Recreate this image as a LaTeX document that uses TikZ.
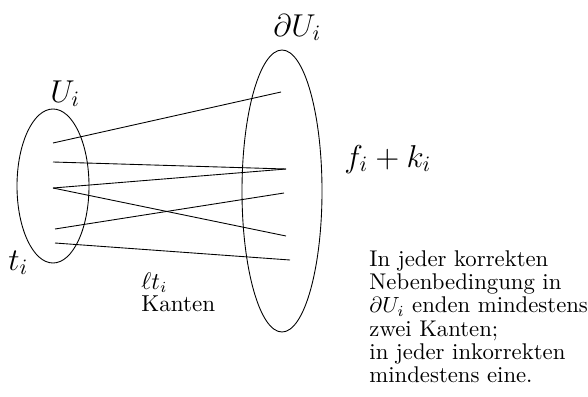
\documentclass[tikz,border=0pt]{standalone}
\begin{document}
\begin{tikzpicture}[x=0.016cm, y=-0.016cm,
    biglabel/.style={inner sep=0pt, anchor=base west, font=\Large},
    remark/.style={inner sep=0pt, anchor=north west, align=left}]
    \useasboundingbox (0,0) rectangle (588,396);
    \draw (53,186) ellipse (36 and 77);
    \draw (282,191) ellipse (40 and 141);
    % ends of the edges in U_i and in its border
    \coordinate (u1) at (53,143);
    \coordinate (u2) at (53,162);
    \coordinate (u3) at (53,188);
    \coordinate (u4) at (55,229);
    \coordinate (u5) at (55,243);
    \coordinate (w1) at (281,92);
    \coordinate (w2) at (286,169);
    \coordinate (w3) at (284,193);
    \coordinate (w4) at (286,236);
    \coordinate (w5) at (290,260);
    \draw (u1) -- (w1);
    \draw (u2) -- (w2);
    \draw (u3) -- (w2);
    \draw (u3) -- (w4);
    \draw (u4) -- (w3);
    \draw (u5) -- (w5);
    \node[biglabel] (Ui) at (50,102) {$U_i$};
    \node[biglabel] (dUi) at (273,36) {$\partial U_i$};
    \node[biglabel] (fk) at (344,167) {$f_i+k_i$};
    \node[biglabel] (ti) at (8,270) {$t_i$};
    \node[remark, font=\fontsize{10.5}{10}\selectfont] (edges) at (141,272) {$\ell t_i$\\Kanten};
    \node[remark, font=\fontsize{10.35}{10.6}\selectfont] (rule) at (369,250) {In jeder korrekten\\Nebenbedingung in\\$\partial U_i$ enden mindestens\\zwei Kanten;\\in jeder inkorrekten\\mindestens eine.};
\end{tikzpicture}
\end{document}
